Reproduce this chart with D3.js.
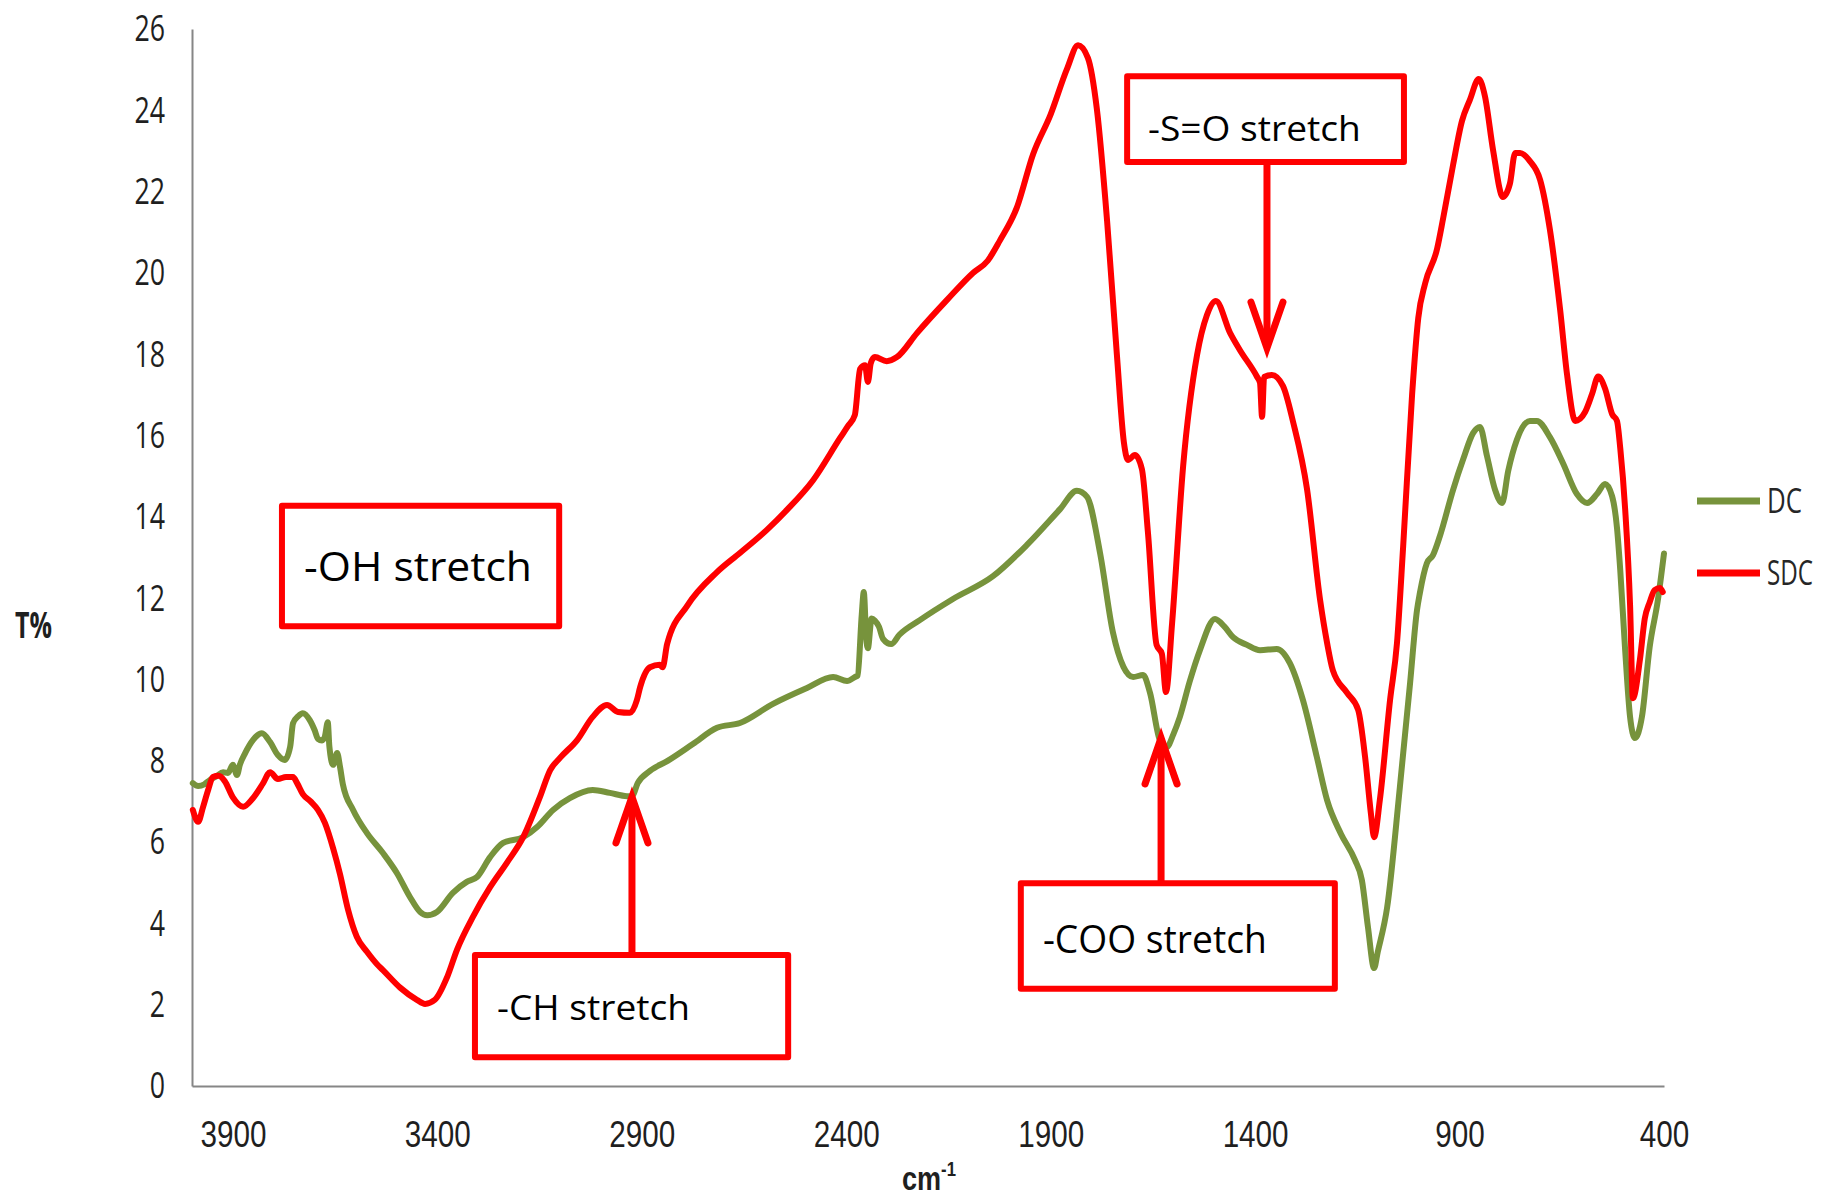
<!DOCTYPE html>
<html>
<head>
<meta charset="utf-8">
<script src="https://cdn.jsdelivr.net/npm/d3@7"></script>
<style>
  html, body { margin: 0; padding: 0; background: #ffffff; }
  svg { display: block; }
</style>
</head>
<body>
<svg id="chart" width="1822" height="1197"></svg>
<script>
// FTIR transmittance spectra (T%) against wavenumber (cm-1)
const dcWavenumber = [
  3998, 3985, 3970, 3956, 3940, 3924, 3912, 3900, 3890, 3883, 3870, 3851, 3829, 3809, 3790, 3773,
  3760, 3753, 3740, 3729, 3712, 3700, 3692, 3682, 3675, 3668, 3664, 3655, 3645, 3638, 3631, 3606,
  3572, 3533, 3499, 3467, 3442, 3425, 3401, 3362, 3328, 3303, 3271, 3239, 3190, 3156, 3117, 3076,
  3020, 2978, 2936, 2924, 2910, 2880, 2838, 2775, 2716, 2660, 2579, 2496, 2432, 2398, 2379, 2372,
  2362, 2357, 2351, 2347, 2338, 2330, 2320, 2310, 2290, 2270, 2220, 2139, 2041, 1958, 1877, 1836,
  1811, 1779, 1748, 1722, 1698, 1674, 1657, 1633, 1616, 1600, 1584, 1560, 1535, 1498, 1475, 1454,
  1420, 1388, 1347, 1315, 1283, 1249, 1224, 1190, 1156, 1139, 1124, 1109, 1100, 1077, 1046, 1021,
  1004, 997, 980, 965, 948, 916, 891, 867, 850, 833, 813, 796, 781, 760, 728, 711,
  679, 647, 613, 588, 564, 544, 527, 515, 507, 495, 483, 471, 454, 435, 415, 400
];
const dcTransmittance = [
  7.45, 7.38, 7.42, 7.53, 7.62, 7.72, 7.70, 7.90, 7.65, 7.90, 8.19, 8.51, 8.68, 8.46, 8.14, 8.02,
  8.34, 8.92, 9.10, 9.17, 9.00, 8.75, 8.54, 8.50, 8.60, 8.95, 8.35, 7.90, 8.19, 7.85, 7.42, 6.79,
  6.22, 5.73, 5.24, 4.65, 4.28, 4.20, 4.28, 4.75, 5.02, 5.14, 5.63, 5.98, 6.12, 6.37, 6.79, 7.08,
  7.28, 7.21, 7.13, 7.13, 7.45, 7.75, 7.99, 8.41, 8.81, 8.93, 9.40, 9.79, 10.06, 9.96, 10.06, 10.10,
  11.60, 12.15, 11.00, 10.77, 11.50, 11.45, 11.30, 11.00, 10.87, 11.10, 11.46, 11.98, 12.54, 13.31, 14.19, 14.64,
  14.49, 13.10, 11.17, 10.31, 10.06, 10.11, 9.67, 8.51, 8.34, 8.65, 9.08, 9.95, 10.72, 11.49, 11.30, 11.04,
  10.85, 10.72, 10.75, 10.40, 9.49, 8.09, 7.03, 6.20, 5.56, 5.07, 3.91, 2.90, 3.30, 4.40, 7.35, 9.91,
  11.71, 12.13, 12.86, 13.06, 13.53, 14.66, 15.42, 16.06, 16.21, 15.50, 14.66, 14.34, 15.13, 15.89, 16.36, 16.36,
  15.96, 15.32, 14.56, 14.34, 14.56, 14.81, 14.51, 13.73, 12.69, 10.72, 9.08, 8.56, 9.08, 10.80, 11.95, 13.10
];

const sdcWavenumber = [
  3998, 3985, 3973, 3960, 3949, 3935, 3920, 3900, 3875, 3851, 3826, 3809, 3790, 3770, 3753, 3743,
  3729, 3710, 3692, 3675, 3655, 3638, 3619, 3597, 3572, 3548, 3533, 3491, 3450, 3430, 3406, 3376,
  3352, 3313, 3271, 3230, 3190, 3149, 3124, 3100, 3058, 3020, 2985, 2958, 2929, 2912, 2904, 2880,
  2856, 2849, 2838, 2789, 2716, 2660, 2594, 2545, 2481, 2415, 2396, 2379, 2366, 2354, 2347, 2340,
  2330, 2301, 2276, 2227, 2154, 2090, 2054, 2024, 1983, 1943, 1900, 1860, 1833, 1809, 1787, 1762,
  1738, 1721, 1711, 1694, 1677, 1662, 1641, 1628, 1618, 1603, 1576, 1542, 1518, 1496, 1461, 1437,
  1395, 1388, 1383, 1378, 1359, 1332, 1307, 1273, 1241, 1224, 1210, 1175, 1148, 1131, 1117, 1109,
  1095, 1070, 1053, 1038, 1016, 1001, 984, 955, 940, 916, 894, 875, 853, 838, 818, 794,
  777, 764, 752, 728, 703, 679, 654, 637, 617, 593, 576, 561, 544, 527, 515, 507,
  495, 483, 476, 459, 447, 435, 423, 410, 403
];
const sdcTransmittance = [
  6.79, 6.50, 6.86, 7.30, 7.60, 7.63, 7.50, 7.10, 6.87, 7.08, 7.45, 7.72, 7.55, 7.60, 7.60, 7.45,
  7.18, 7.00, 6.79, 6.47, 5.85, 5.21, 4.36, 3.67, 3.30, 3.00, 2.85, 2.42, 2.12, 2.02, 2.12, 2.68,
  3.35, 4.16, 4.89, 5.49, 6.12, 7.11, 7.77, 8.07, 8.51, 9.08, 9.37, 9.20, 9.18, 9.49, 9.81, 10.30,
  10.36, 10.30, 10.87, 11.81, 12.64, 13.11, 13.68, 14.17, 14.90, 15.94, 16.23, 16.50, 17.64, 17.73, 17.32, 17.78,
  17.93, 17.83, 17.93, 18.52, 19.33, 20.00, 20.30, 20.80, 21.60, 22.92, 23.90, 25.02, 25.60, 25.29, 24.03, 21.28,
  17.98, 15.84, 15.40, 15.52, 15.18, 13.60, 10.85, 10.63, 9.69, 11.39, 15.25, 17.98, 18.96, 19.31, 18.52, 18.10,
  17.44, 17.30, 16.46, 17.44, 17.49, 17.22, 16.33, 14.68, 11.95, 10.90, 10.23, 9.67, 9.25, 8.09, 6.72, 6.12,
  7.03, 9.49, 10.90, 13.26, 17.02, 18.89, 19.75, 20.59, 21.35, 22.65, 23.74, 24.25, 24.77, 24.35, 23.02, 21.87,
  22.19, 22.95, 22.95, 22.75, 22.29, 21.06, 19.09, 17.49, 16.36, 16.58, 17.02, 17.45, 17.15, 16.53, 16.36, 15.69,
  14.19, 11.83, 9.54, 10.48, 11.50, 11.90, 12.20, 12.25, 12.15
];

const seriesNames = ["DC", "SDC"];
const yTickValues = [0, 2, 4, 6, 8, 10, 12, 14, 16, 18, 20, 22, 24, 26];
const xTickValues = [3900, 3400, 2900, 2400, 1900, 1400, 900, 400];
const yAxisTitle = "T%";
const xAxisTitle = "cm";
const xAxisTitleSup = "-1";

// Band assignments marked on the spectra
const calloutLabels = ["-OH stretch", "-S=O stretch", "-CH stretch", "-COO stretch"];

// ---------------------------------------------------------------------------
const plot = { left: 192, right: 1664, top: 29, bottom: 1086 };
const colors = { DC: "#77933C", SDC: "#FF0000" };
const axisColor = "#868686";
const textColor = "#1f1f1f";
const calloutRed = "#FF0000";

const svg = d3.select("#chart");

const x = d3.scaleLinear().domain([4000, 400]).range([plot.left, plot.right]);
const y = d3.scaleLinear().domain([0, 26]).range([plot.bottom, plot.top]);

// Condense a text element horizontally to a given width, keeping its anchor point fixed
function fitWidth(node, w) {
  const natural = node.getComputedTextLength();
  if (!natural) return;
  const k = w / natural;
  const ax = +node.getAttribute("x") || 0;
  node.setAttribute("transform", `translate(${ax * (1 - k)},0) scale(${k},1)`);
}

// Y axis
const yAxis = svg.append("g")
  .attr("transform", `translate(${plot.left},0)`)
  .call(d3.axisLeft(y).tickValues(yTickValues).tickSize(0).tickPadding(27).tickFormat(d3.format("d")));
yAxis.select(".domain").attr("stroke", axisColor).attr("stroke-width", 2);
yAxis.selectAll("text")
  .attr("fill", textColor)
  .style("font-family", "'Open Sans', 'Noto Sans', sans-serif")
  .style("font-size", "37px")
  .each(function () { fitWidth(this, this.textContent.length * 15.3); });

// X axis
const xAxis = svg.append("g")
  .attr("transform", `translate(0,${plot.bottom})`)
  .call(d3.axisBottom(x).tickValues(xTickValues).tickSize(0).tickPadding(35).tickFormat(d3.format("d")));
xAxis.select(".domain").attr("stroke", axisColor).attr("stroke-width", 2);
xAxis.selectAll("text")
  .attr("fill", textColor)
  .style("font-family", "'Liberation Sans Narrow', 'Liberation Sans', Arial, sans-serif")
  .style("font-size", "37px")
  .each(function () { fitWidth(this, this.textContent.length * 16.5); });

// Axis titles
const yTitle = svg.append("text")
  .attr("x", 15).attr("y", 638)
  .attr("fill", textColor)
  .style("font-family", "'Open Sans', sans-serif")
  .style("font-size", "35px").style("font-weight", "700")
  .text(yAxisTitle);
fitWidth(yTitle.node(), 37);

const xTitle = svg.append("text")
  .attr("x", 902).attr("y", 1190)
  .attr("fill", textColor)
  .style("font-family", "'Liberation Sans Narrow', 'Liberation Sans', Arial, sans-serif")
  .style("font-size", "34px").style("font-weight", "700");
xTitle.append("tspan").text(xAxisTitle);
xTitle.append("tspan").attr("dy", -14).style("font-size", "21px").text(xAxisTitleSup);
fitWidth(xTitle.node(), 54);

// Spectra
const series = [
  { name: seriesNames[0], wn: dcWavenumber, t: dcTransmittance },
  { name: seriesNames[1], wn: sdcWavenumber, t: sdcTransmittance }
];
const line = d3.line()
  .x(d => x(d[0]))
  .y(d => y(d[1]))
  .curve(d3.curveMonotoneX);

svg.append("g").attr("class", "spectra")
  .selectAll("path")
  .data(series)
  .join("path")
  .attr("d", s => line(d3.zip(s.wn, s.t)))
  .attr("fill", "none")
  .attr("stroke", s => colors[s.name])
  .attr("stroke-width", 6)
  .attr("stroke-linejoin", "round")
  .attr("stroke-linecap", "round");

// Callout boxes and arrows, laid out in data units (cm-1, T%)
const callouts = [
  { label: calloutLabels[0], box: [3780, 3102, 14.27, 11.31], at: [3726, 12.42], size: 41, width: 228 },
  { label: calloutLabels[1], box: [1713, 1036, 24.84, 22.73], at: [1662, 23.25], size: 35, width: 213,
    arrow: { wn: 1371, from: 22.73, to: 18.15 } },
  { label: calloutLabels[2], box: [3308, 2542, 3.22, 0.71], at: [3254, 1.62], size: 34, width: 193,
    arrow: { wn: 2924, from: 3.22, to: 7.11 } },
  { label: calloutLabels[3], box: [1973, 1205, 4.99, 2.39], at: [1919, 3.27], size: 38, width: 224,
    arrow: { wn: 1630, from: 4.99, to: 8.56 } }
];

const cg = svg.append("g").attr("class", "callouts");
callouts.forEach(c => {
  const [w0, w1, t0, t1] = c.box;
  cg.append("rect")
    .attr("x", x(w0)).attr("y", y(t0))
    .attr("width", x(w1) - x(w0)).attr("height", y(t1) - y(t0))
    .attr("fill", "#ffffff")
    .attr("stroke", calloutRed).attr("stroke-width", 6)
    .attr("stroke-linejoin", "round");
  const tx = cg.append("text")
    .attr("x", x(c.at[0])).attr("y", y(c.at[1]))
    .attr("fill", "#000000")
    .style("font-family", "'Open Sans', 'Noto Sans', sans-serif")
    .style("font-size", c.size + "px")
    .text(c.label);
  fitWidth(tx.node(), c.width);

  if (c.arrow) {
    const ax = x(c.arrow.wn);
    const yFrom = y(c.arrow.from), yTip = y(c.arrow.to);
    const dir = yTip < yFrom ? 1 : -1;   // 1: arrow points up
    cg.append("line")
      .attr("x1", ax).attr("x2", ax)
      .attr("y1", yFrom).attr("y2", yTip + dir * 4)
      .attr("stroke", calloutRed).attr("stroke-width", 7);
    cg.append("polyline")
      .attr("points", [[ax - 16, yTip + dir * 46], [ax, yTip], [ax + 16, yTip + dir * 46]].join(" "))
      .attr("fill", "none")
      .attr("stroke", calloutRed).attr("stroke-width", 7)
      .attr("stroke-linejoin", "miter").attr("stroke-linecap", "round");
  }
});

// Legend
const legend = svg.append("g").attr("class", "legend");
const legendRows = [{ name: seriesNames[0], y: 501, w: 35 }, { name: seriesNames[1], y: 573, w: 46 }];
legendRows.forEach(r => {
  legend.append("line")
    .attr("x1", 1697).attr("x2", 1760)
    .attr("y1", r.y).attr("y2", r.y)
    .attr("stroke", colors[r.name]).attr("stroke-width", 7);
  const t = legend.append("text")
    .attr("x", 1767).attr("y", r.y + 12.5)
    .attr("fill", "#262626")
    .style("font-family", "'Open Sans', 'Noto Sans', sans-serif")
    .style("font-size", "35px")
    .text(r.name);
  fitWidth(t.node(), r.w);
});
</script>
</body>
</html>
